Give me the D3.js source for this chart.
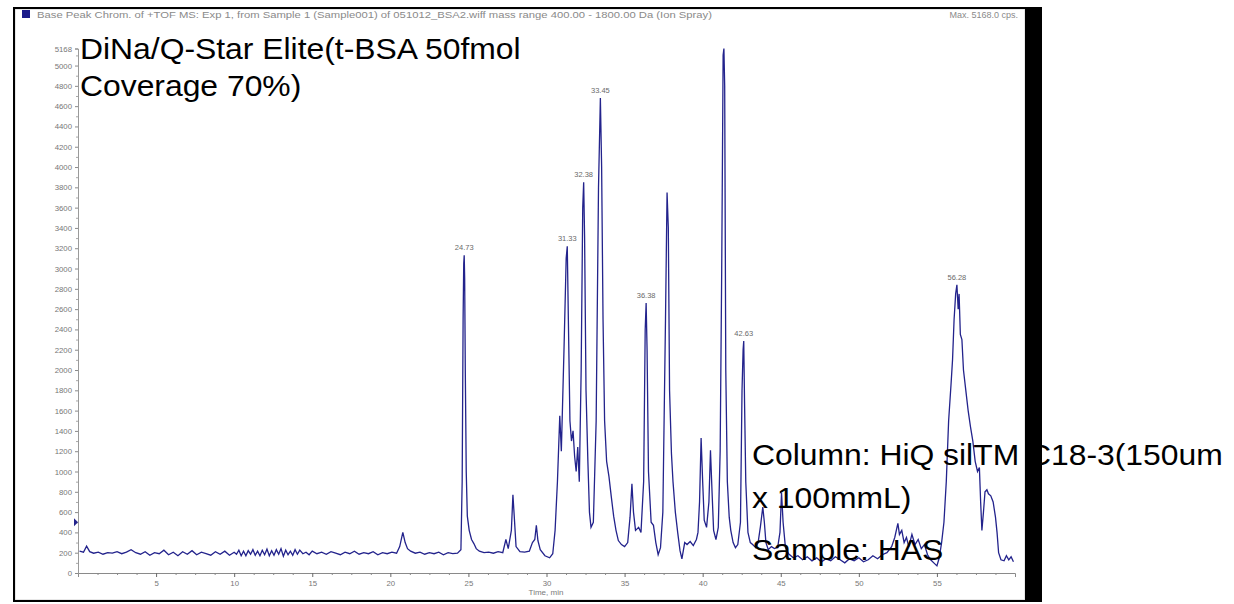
<!DOCTYPE html>
<html>
<head>
<meta charset="utf-8">
<script src="https://cdn.jsdelivr.net/npm/d3@7"></script>
<style>
  html, body { margin: 0; padding: 0; background: #ffffff; }
  svg { display: block; }
</style>
</head>
<body>
<svg id="chart" width="1234" height="604"></svg>
<script>
// Base peak chromatogram, [retention time (min), intensity (cps)]
const earlyBaseline = [
  [0.10,215],[0.35,205],[0.55,265],[0.75,210],[1.00,195],[1.30,205],[1.60,185],[1.90,200],
  [2.20,195],[2.50,210],[2.80,190],[3.10,205],[3.40,230],[3.70,200],[4.00,185],[4.30,210],
  [4.60,175],[4.90,200],[5.20,190],[5.50,225],[5.80,180],[6.10,205],[6.40,170],[6.70,210],
  [7.00,185],[7.30,220],[7.60,180],[7.90,205],[8.20,190],[8.50,175],[8.80,210],[9.10,185],
  [9.40,215],[9.70,175],[10.00,205],[10.15,185],[10.30,225],[10.45,170],[10.60,215],[10.75,170],
  [10.90,220],[11.05,185],[11.20,230],[11.35,175],[11.50,215],[11.65,170],[11.80,225],[11.95,180],
  [12.10,235],[12.25,170],[12.40,220],[12.55,175],[12.70,230],[12.85,185],[13.00,240],[13.15,165],
  [13.30,225],[13.45,180],[13.60,215],[13.75,175],[13.90,230],[14.05,185],[14.20,225],[14.40,190],
  [14.60,205],[14.80,180],[15.00,215],[15.30,190],[15.60,205],[15.90,185],[16.20,210],[16.50,195],
  [16.80,180],[17.10,205],[17.40,190],[17.70,215],[18.00,185],[18.30,200],[18.60,190],[18.90,210],
  [19.20,180],[19.50,200],[19.80,190],[20.10,205],[20.40,195],[20.60,260],[20.80,400],[20.95,300],
  [21.10,240],[21.30,215],[21.60,195],[21.90,205],[22.20,185],[22.50,200],[22.80,190],[23.10,205],
  [23.40,180],[23.70,200],[24.00,190],[24.30,195]
];

const firstPeaks = [
  [24.52,230],[24.60,900],[24.66,2500],[24.70,3050],[24.73,3130],[24.76,2900],[24.80,2000],
  [24.86,1000],[24.93,560],[25.05,420],[25.20,330],[25.35,290],[25.50,240],[25.70,215],
  [26.00,200],[26.30,205],[26.60,195],[26.90,210],[27.20,200],[27.40,330],[27.55,240],
  [27.75,420],[27.85,770],[27.95,520],[28.05,260],[28.30,210],[28.60,205],[28.90,215],
  [29.10,300],[29.25,330],[29.35,470],[29.45,320],[29.60,230],[29.90,170],[30.20,150],
  [30.40,190],[30.55,420]
];

const mainCluster = [
  [30.70,900],[30.85,1550],[30.95,1200],[31.12,2200],[31.26,3100],[31.33,3220],[31.40,2500],
  [31.50,1500],[31.60,1300],[31.70,1400],[31.80,1150],[31.90,1000],[32.00,1240],[32.10,900],
  [32.22,2000],[32.32,3600],[32.38,3850],[32.44,3300],[32.53,1800],[32.65,1100],[32.75,600],
  [32.85,450],[33.00,500],[33.18,1500],[33.33,3800],[33.45,4680],[33.53,4000],[33.62,2500],
  [33.72,1500],[33.85,1100],[34.00,950],[34.15,750],[34.30,560],[34.45,420],[34.60,320],
  [34.80,280],[35.00,260],[35.20,300],[35.35,550],[35.47,880],[35.57,600],[35.70,420],
  [35.90,450],[36.05,400],[36.22,900],[36.32,2400],[36.38,2660],[36.44,2200],[36.53,1000],
  [36.70,500],[36.85,470],[37.00,300],[37.15,180],[37.30,250],[37.45,600],[37.62,2500],
  [37.72,3750],[37.80,3400],[37.88,1800],[38.00,1180],[38.10,900],[38.25,600],[38.40,400],
  [38.55,220],[38.67,140],[38.85,300],[39.00,280],[39.20,310],[39.40,270],[39.60,330],
  [39.70,400],[39.80,700],[39.90,1330],[40.00,900],[40.10,520],[40.25,450],[40.40,700],
  [40.50,1210],[40.60,800],[40.70,420],[40.85,330],[41.00,450],[41.12,1200],[41.22,3000],
  [41.31,5100],[41.36,5168],[41.41,4800],[41.48,2000],[41.58,900],[41.70,550],[41.80,420],
  [41.95,300],[42.10,250],[42.25,280],[42.42,500],[42.52,1800],[42.59,2200],[42.63,2285],
  [42.68,1700],[42.76,900],[42.90,400],[43.05,300],[43.20,280],[43.40,250],[43.55,300],
  [43.70,460],[43.85,650],[43.95,500],[44.05,300],[44.20,230],[44.40,260],[44.60,240],
  [44.80,250],[44.95,400],[45.05,790],[45.15,500],[45.30,250]
];

const lateRegion = [
  [45.50,190],[45.80,150],[46.10,170],[46.40,130],[46.70,160],[47.00,120],[47.30,150],
  [47.60,110],[47.90,140],[48.20,120],[48.50,160],[48.80,130],[49.10,100],[49.40,140],
  [49.70,120],[50.00,150],[50.30,110],[50.60,130],[50.90,170],[51.20,140],[51.50,180],
  [51.80,200],[52.10,260],[52.30,350],[52.50,490],[52.60,380],[52.75,420],[52.90,300],
  [53.05,350],[53.20,260],[53.40,380],[53.60,280],[53.80,330],[54.00,240],[54.20,280],
  [54.40,180],[54.60,130],[54.80,100],[55.00,70],[55.15,150],[55.30,300],[55.45,500],
  [55.60,900],[55.75,1500],[55.90,1850],[56.00,2100],[56.10,2500],[56.20,2750],[56.28,2840],
  [56.36,2600],[56.42,2750],[56.50,2350],[56.60,2300],[56.70,2000],[56.85,1800],[57.00,1600],
  [57.15,1440],[57.30,1300],[57.45,1100],[57.60,1000],[57.72,1040],[57.80,700],[57.88,420],
  [57.98,600],[58.08,800],[58.20,820],[58.30,780],[58.45,760],[58.60,700],[58.75,550],
  [58.85,400],[58.95,200],[59.10,130],[59.30,120],[59.45,170],[59.60,130],[59.75,160],
  [59.90,110]
];

// Annotated peak retention times
const peakTimes = [24.73, 31.33, 32.38, 33.45, 36.38, 42.63, 56.28];

// Axis ticks
const xTickValues = [5, 10, 15, 20, 25, 30, 35, 40, 45, 50, 55];
const yTickValues = [0, 200, 400, 600, 800, 1000, 1200, 1400, 1600, 1800, 2000, 2200, 2400,
  2600, 2800, 3000, 3200, 3400, 3600, 3800, 4000, 4200, 4400, 4600, 4800, 5000];
const yMaxCps = 5168;
const xDomain = [0, 60];
const cursorLevel = 500;

const headerText = "Base Peak Chrom. of +TOF MS: Exp 1, from Sample 1 (Sample001) of 051012_BSA2.wiff mass range 400.00 - 1800.00 Da (Ion Spray)";
const maxText = "Max. 5168.0 cps.";
const titleLines = ["DiNa/Q-Star Elite(t-BSA 50fmol", "Coverage 70%)"];
const noteLines = ["Column: HiQ silTM C18-3(150um", "x 100mmL)"];
const sampleLine = "Sample: HAS";

const trace = earlyBaseline.concat(firstPeaks, mainCluster, lateRegion);

const svg = d3.select("#chart");
const FONT = "'Liberation Sans', Arial, Helvetica, sans-serif";
const traceColor = "#23238c";

const x = d3.scaleLinear().domain(xDomain).range([78, 1015]);
const y = d3.scaleLinear().domain([0, yMaxCps]).range([573, 48.5]);

// window panel
svg.append("rect").attr("x", 15).attr("y", 9).attr("width", 1010).attr("height", 591)
  .attr("fill", "#ffffff").attr("stroke", "#cfcfcf").attr("stroke-width", 1);

// header strip
svg.append("rect").attr("x", 22).attr("y", 10).attr("width", 8).attr("height", 8).attr("fill", "#1c1c8a");
svg.append("text").attr("x", 37).attr("y", 17.5)
  .attr("font-family", FONT).attr("font-size", 9).attr("fill", "#8a8a8a")
  .attr("textLength", 675).attr("lengthAdjust", "spacingAndGlyphs")
  .text(headerText);
svg.append("text").attr("x", 1018).attr("y", 17.5).attr("text-anchor", "end")
  .attr("font-family", FONT).attr("font-size", 9).attr("fill", "#8a8a8a")
  .text(maxText);

// y axis
const yMajor = svg.append("g").attr("transform", "translate(78,0)")
  .call(d3.axisLeft(y).tickValues(yTickValues.concat([yMaxCps])).tickSize(3).tickPadding(3)
    .tickFormat(d3.format("d")));
yMajor.select(".domain").attr("stroke", "#9a9a9a");
yMajor.selectAll(".tick line").attr("stroke", "#8a8a8a");
yMajor.selectAll(".tick text").attr("font-family", FONT).attr("font-size", 7.8).attr("fill", "#777777");
const yMinor = svg.append("g").attr("transform", "translate(78,0)")
  .call(d3.axisLeft(y).tickValues(yTickValues.map(v => v + 100).filter(v => v < yMaxCps)).tickSize(2).tickFormat(""));
yMinor.select(".domain").remove();
yMinor.selectAll(".tick line").attr("stroke", "#a8a8a8");

// x axis
const xMajor = svg.append("g").attr("transform", "translate(0,573)")
  .call(d3.axisBottom(x).tickValues(xTickValues).tickSize(4).tickPadding(3).tickFormat(d3.format("d")));
xMajor.select(".domain").attr("stroke", "#8a8a8a");
xMajor.selectAll(".tick line").attr("stroke", "#6a6a6a");
xMajor.selectAll(".tick text").attr("font-family", FONT).attr("font-size", 7.8).attr("fill", "#777777");
const minorTimes = d3.range(1.25, 60, 1.25).filter(t => !xTickValues.includes(t));
const xMinor = svg.append("g").attr("transform", "translate(0,573)")
  .call(d3.axisBottom(x).tickValues(minorTimes).tickSize(2).tickFormat(""));
xMinor.select(".domain").remove();
xMinor.selectAll(".tick line").attr("stroke", "#8a8a8a");

svg.append("text").attr("x", 546).attr("y", 595).attr("text-anchor", "middle")
  .attr("font-family", FONT).attr("font-size", 8).attr("fill", "#7a7a7a")
  .text("Time, min");

// cursor marker at the left edge of the trace
const cy = y(cursorLevel);
svg.append("path")
  .attr("d", `M${x(0) - 4},${cy - 4} L${x(0)},${cy} L${x(0) - 4},${cy + 4} Z`)
  .attr("fill", traceColor);

// chromatogram trace
const line = d3.line().x(d => x(d[0])).y(d => y(d[1]));
svg.append("path").datum(trace)
  .attr("d", line)
  .attr("fill", "none")
  .attr("stroke", traceColor)
  .attr("stroke-width", 1.3)
  .attr("stroke-linejoin", "miter");

// peak retention-time annotations
const apexOf = t => trace.find(d => Math.abs(d[0] - t) < 1e-6);
svg.append("g").selectAll("text").data(peakTimes).join("text")
  .attr("x", t => x(t))
  .attr("y", t => y(apexOf(t)[1]) - 5)
  .attr("text-anchor", "middle")
  .attr("font-family", FONT).attr("font-size", 7.5).attr("fill", "#6a6a6a")
  .text(t => t.toFixed(2));

// overlaid annotation text
function bigText(str, px, py) {
  svg.append("text")
    .attr("transform", `translate(${px},${py}) scale(1.08,1)`)
    .attr("font-family", FONT).attr("font-size", 29.5).attr("fill", "#000000")
    .text(str);
}
bigText(titleLines[0], 80, 59);
bigText(titleLines[1], 80, 96);
bigText(noteLines[0], 752, 465);
bigText(noteLines[1], 752, 508);
bigText(sampleLine, 752, 560);

// window frame
svg.append("rect").attr("x", 13).attr("y", 7).attr("width", 2).attr("height", 595).attr("fill", "#000");
svg.append("rect").attr("x", 13).attr("y", 7).attr("width", 1029).attr("height", 2).attr("fill", "#000");
svg.append("rect").attr("x", 13).attr("y", 600).attr("width", 1029).attr("height", 2).attr("fill", "#000");
svg.append("rect").attr("x", 1025).attr("y", 7).attr("width", 17).attr("height", 595).attr("fill", "#000");
</script>
</body>
</html>
